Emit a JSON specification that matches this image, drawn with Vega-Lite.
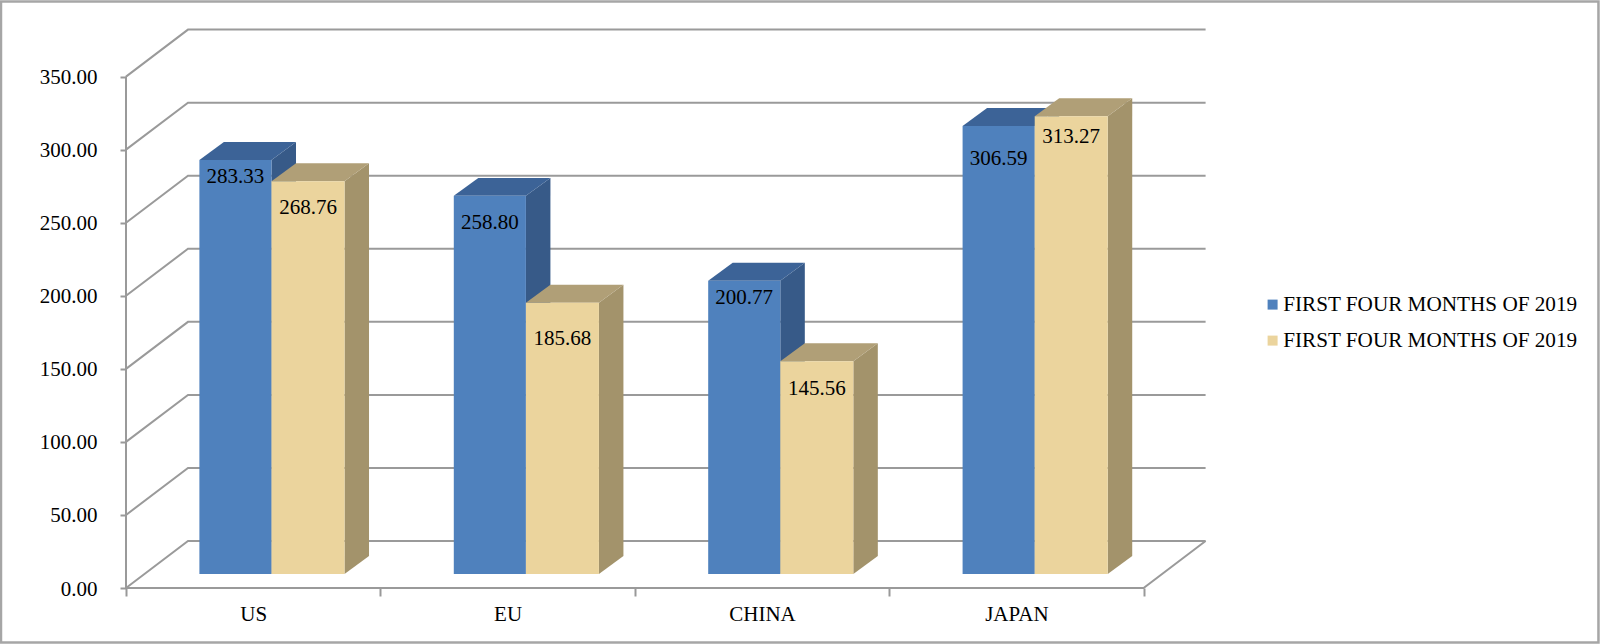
{
"$schema":"https://vega.github.io/schema/vega-lite/v6.json",
"width":1080,"height":558,
"autosize":"none",
"padding":{"left":126,"top":30,"right":394,"bottom":56},
"background":"#ffffff",
"config":{"view":{"stroke":null},"font":"Liberation Serif"},
"datasets":{
"frame":[{"x":-0.4914,"x2":5.788,"y":401.4,"y2":-37.3}],
"grid":[
{"g":"left","x":0,"y":0},{"g":"left","x":0,"y":350},
{"g":"front","x":0,"y":0},{"g":"front","x":4,"y":0},{"g":"front","x":4.2437,"y":32.17},
{"g":"g0","x":0,"y":0},{"g":"g0","x":0.2437,"y":32.17},{"g":"g0","x":4.2437,"y":32.17},
{"g":"g50","x":0,"y":50},{"g":"g50","x":0.2437,"y":82.17},{"g":"g50","x":4.2437,"y":82.17},
{"g":"g100","x":0,"y":100},{"g":"g100","x":0.2437,"y":132.17},{"g":"g100","x":4.2437,"y":132.17},
{"g":"g150","x":0,"y":150},{"g":"g150","x":0.2437,"y":182.17},{"g":"g150","x":4.2437,"y":182.17},
{"g":"g200","x":0,"y":200},{"g":"g200","x":0.2437,"y":232.17},{"g":"g200","x":4.2437,"y":232.17},
{"g":"g250","x":0,"y":250},{"g":"g250","x":0.2437,"y":282.17},{"g":"g250","x":4.2437,"y":282.17},
{"g":"g300","x":0,"y":300},{"g":"g300","x":0.2437,"y":332.17},{"g":"g300","x":4.2437,"y":332.17},
{"g":"g350","x":0,"y":350},{"g":"g350","x":0.2437,"y":382.17},{"g":"g350","x":4.2437,"y":382.17}
],
"bars":[
{"cat":"US","s":"a","x":0.2885,"x2":0.572,"y":283.33},
{"cat":"US","s":"b","x":0.572,"x2":0.859,"y":268.76},
{"cat":"EU","s":"a","x":1.2885,"x2":1.572,"y":258.80},
{"cat":"EU","s":"b","x":1.572,"x2":1.859,"y":185.68},
{"cat":"CHINA","s":"a","x":2.2885,"x2":2.572,"y":200.77},
{"cat":"CHINA","s":"b","x":2.572,"x2":2.859,"y":145.56},
{"cat":"JAPAN","s":"a","x":3.2885,"x2":3.572,"y":306.59},
{"cat":"JAPAN","s":"b","x":3.572,"x2":3.859,"y":313.27}
],
"labels":[
{"x":0.43,"y":281.5,"v":283.33},
{"x":0.7155,"y":260.3,"v":268.76},
{"x":1.43,"y":250,"v":258.80},
{"x":1.7155,"y":170.6,"v":185.68},
{"x":2.43,"y":198.3,"v":200.77},
{"x":2.7155,"y":136.4,"v":145.56},
{"x":3.43,"y":293.8,"v":306.59},
{"x":3.7155,"y":309,"v":313.27}
],
"faces":[
{"id":"USa-side","s":"a","f":"side","x":0.572,"y":283.33,"y2":0},{"id":"USa-side","s":"a","f":"side","x":0.6683,"y":295.63,"y2":12.3},
{"id":"USa-top","s":"a","f":"top","x":0.2885,"y":283.33,"y2":283.33},{"id":"USa-top","s":"a","f":"top","x":0.3848,"y":295.63,"y2":283.33},{"id":"USa-top","s":"a","f":"top","x":0.572,"y":295.63,"y2":283.33},{"id":"USa-top","s":"a","f":"top","x":0.6683,"y":295.63,"y2":295.63},
{"id":"USb-side","s":"b","f":"side","x":0.859,"y":268.76,"y2":0},{"id":"USb-side","s":"b","f":"side","x":0.9553,"y":281.06,"y2":12.3},
{"id":"USb-top","s":"b","f":"top","x":0.572,"y":268.76,"y2":268.76},{"id":"USb-top","s":"b","f":"top","x":0.6683,"y":281.06,"y2":268.76},{"id":"USb-top","s":"b","f":"top","x":0.859,"y":281.06,"y2":268.76},{"id":"USb-top","s":"b","f":"top","x":0.9553,"y":281.06,"y2":281.06},
{"id":"EUa-side","s":"a","f":"side","x":1.572,"y":258.80,"y2":0},{"id":"EUa-side","s":"a","f":"side","x":1.6683,"y":271.10,"y2":12.3},
{"id":"EUa-top","s":"a","f":"top","x":1.2885,"y":258.80,"y2":258.80},{"id":"EUa-top","s":"a","f":"top","x":1.3848,"y":271.10,"y2":258.80},{"id":"EUa-top","s":"a","f":"top","x":1.572,"y":271.10,"y2":258.80},{"id":"EUa-top","s":"a","f":"top","x":1.6683,"y":271.10,"y2":271.10},
{"id":"EUb-side","s":"b","f":"side","x":1.859,"y":185.68,"y2":0},{"id":"EUb-side","s":"b","f":"side","x":1.9553,"y":197.98,"y2":12.3},
{"id":"EUb-top","s":"b","f":"top","x":1.572,"y":185.68,"y2":185.68},{"id":"EUb-top","s":"b","f":"top","x":1.6683,"y":197.98,"y2":185.68},{"id":"EUb-top","s":"b","f":"top","x":1.859,"y":197.98,"y2":185.68},{"id":"EUb-top","s":"b","f":"top","x":1.9553,"y":197.98,"y2":197.98},
{"id":"CNa-side","s":"a","f":"side","x":2.572,"y":200.77,"y2":0},{"id":"CNa-side","s":"a","f":"side","x":2.6683,"y":213.07,"y2":12.3},
{"id":"CNa-top","s":"a","f":"top","x":2.2885,"y":200.77,"y2":200.77},{"id":"CNa-top","s":"a","f":"top","x":2.3848,"y":213.07,"y2":200.77},{"id":"CNa-top","s":"a","f":"top","x":2.572,"y":213.07,"y2":200.77},{"id":"CNa-top","s":"a","f":"top","x":2.6683,"y":213.07,"y2":213.07},
{"id":"CNb-side","s":"b","f":"side","x":2.859,"y":145.56,"y2":0},{"id":"CNb-side","s":"b","f":"side","x":2.9553,"y":157.86,"y2":12.3},
{"id":"CNb-top","s":"b","f":"top","x":2.572,"y":145.56,"y2":145.56},{"id":"CNb-top","s":"b","f":"top","x":2.6683,"y":157.86,"y2":145.56},{"id":"CNb-top","s":"b","f":"top","x":2.859,"y":157.86,"y2":145.56},{"id":"CNb-top","s":"b","f":"top","x":2.9553,"y":157.86,"y2":157.86},
{"id":"JPa-side","s":"a","f":"side","x":3.572,"y":306.59,"y2":0},{"id":"JPa-side","s":"a","f":"side","x":3.6683,"y":318.89,"y2":12.3},
{"id":"JPa-top","s":"a","f":"top","x":3.2885,"y":306.59,"y2":306.59},{"id":"JPa-top","s":"a","f":"top","x":3.3848,"y":318.89,"y2":306.59},{"id":"JPa-top","s":"a","f":"top","x":3.572,"y":318.89,"y2":306.59},{"id":"JPa-top","s":"a","f":"top","x":3.6683,"y":318.89,"y2":318.89},
{"id":"JPb-side","s":"b","f":"side","x":3.859,"y":313.27,"y2":0},{"id":"JPb-side","s":"b","f":"side","x":3.9553,"y":325.57,"y2":12.3},
{"id":"JPb-top","s":"b","f":"top","x":3.572,"y":313.27,"y2":313.27},{"id":"JPb-top","s":"b","f":"top","x":3.6683,"y":325.57,"y2":313.27},{"id":"JPb-top","s":"b","f":"top","x":3.859,"y":325.57,"y2":313.27},{"id":"JPb-top","s":"b","f":"top","x":3.9553,"y":325.57,"y2":325.57}
]
},
"encoding":{
"x":{"field":"x","type":"quantitative","title":null,"scale":{"domain":[0,4.2453],"nice":false,"zero":false},
"axis":{"values":[0,0.5,1,1.5,2,2.5,3,3.5,4],"domain":false,"grid":false,"tickColor":"#999999","tickWidth":2,"tickSize":8,
"tickOpacity":{"condition":{"test":"datum.value % 1 == 0","value":1},"value":0},
"labelExpr":"datum.value==0.5?'US':datum.value==1.5?'EU':datum.value==2.5?'CHINA':datum.value==3.5?'JAPAN':''",
"labelFont":"Liberation Serif","labelFontSize":21,"labelColor":"#000000","labelPadding":7,"labelAngle":0,"labelOverlap":false,"labelBound":false,"labelFlush":false}},
"y":{"field":"y","type":"quantitative","title":null,"scale":{"domain":[0,381.9],"nice":false,"zero":false},
"axis":{"values":[0,50,100,150,200,250,300,350],"format":".2f","domain":false,"grid":false,"tickColor":"#999999","tickWidth":2,"tickSize":6,
"labelFont":"Liberation Serif","labelFontSize":21,"labelColor":"#000000","labelPadding":23,"labelOffset":1,"labelOverlap":false,"labelBound":false,"labelFlush":false}}
},
"layer":[
{"data":{"name":"frame"},"mark":{"type":"rect","filled":false,"stroke":"#a6a6a6","strokeWidth":2.5},
 "encoding":{"x2":{"field":"x2"},"y2":{"field":"y2"}}},
{"data":{"name":"grid"},"mark":{"type":"line","color":"#9a9a9a","strokeWidth":2},"encoding":{"detail":{"field":"g"}}},
{"data":{"name":"faces"},"transform":[{"filter":"datum.s=='a' && datum.f=='side'"}],"mark":{"type":"area","color":"#375a88","yOffset":-14,"y2Offset":-14},"encoding":{"y2":{"field":"y2"},"detail":{"field":"id"}}},
{"data":{"name":"faces"},"transform":[{"filter":"datum.s=='a' && datum.f=='top'"}],"mark":{"type":"area","color":"#3c6397","yOffset":-14,"y2Offset":-14},"encoding":{"y2":{"field":"y2"},"detail":{"field":"id"}}},
{"data":{"name":"bars"},"transform":[{"filter":"datum.s=='a'"}],"mark":{"type":"rect","yOffset":-14,"y2Offset":-14},
 "encoding":{"x2":{"field":"x2"},"y2":{"datum":0},
 "color":{"field":"s","type":"nominal","scale":{"domain":["a","b"],"range":["#4f81bd","#ebd49d"]},
 "legend":{"title":null,"orient":"none","legendX":1136,"legendY":264,"symbolType":"square","symbolSize":100,"symbolStrokeWidth":0,"labelExpr":"'FIRST FOUR MONTHS OF 2019'","labelFont":"Liberation Serif","labelFontSize":21.2,"labelColor":"#000000","labelLimit":400,"labelOffset":0,"rowPadding":14}}}},
{"data":{"name":"faces"},"transform":[{"filter":"datum.s=='b' && datum.f=='side'"}],"mark":{"type":"area","color":"#a3936b","yOffset":-14,"y2Offset":-14},"encoding":{"y2":{"field":"y2"},"detail":{"field":"id"}}},
{"data":{"name":"faces"},"transform":[{"filter":"datum.s=='b' && datum.f=='top'"}],"mark":{"type":"area","color":"#b09f77","yOffset":-14,"y2Offset":-14},"encoding":{"y2":{"field":"y2"},"detail":{"field":"id"}}},
{"data":{"name":"bars"},"transform":[{"filter":"datum.s=='b'"}],"mark":{"type":"rect","yOffset":-14,"y2Offset":-14},
 "encoding":{"x2":{"field":"x2"},"y2":{"datum":0},
 "color":{"field":"s","type":"nominal","scale":{"domain":["a","b"],"range":["#4f81bd","#ebd49d"]}}}},
{"data":{"name":"labels"},"mark":{"type":"text","font":"Liberation Serif","fontSize":21,"color":"#000000","align":"center","baseline":"middle"},
 "encoding":{"text":{"field":"v","type":"quantitative","format":".2f"}}}
]
}
